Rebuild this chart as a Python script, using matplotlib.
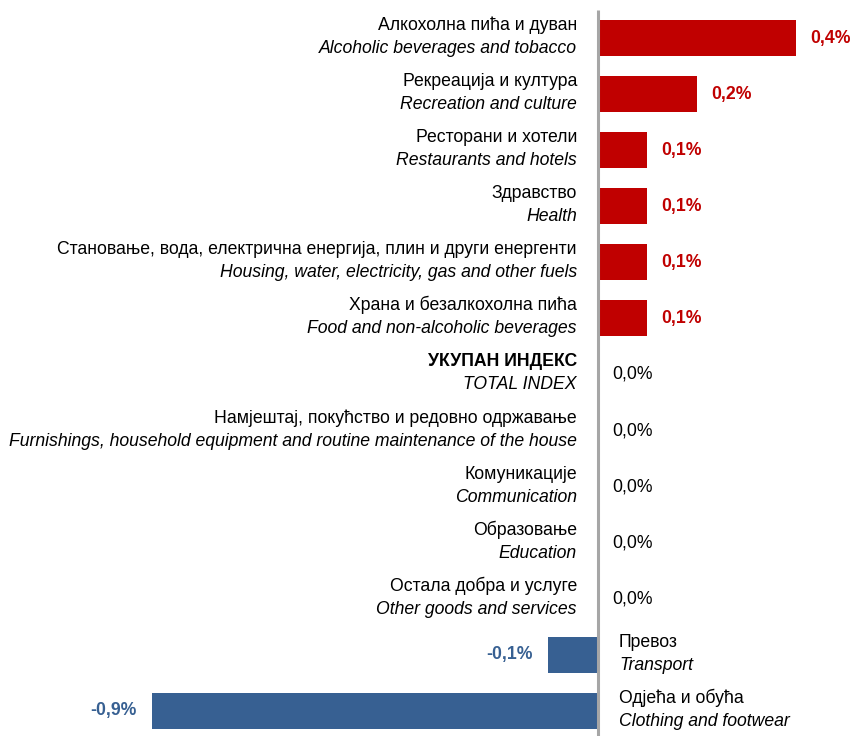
import matplotlib
matplotlib.use("Agg")
import matplotlib.pyplot as plt
from matplotlib import font_manager as fm

names_sr = ["Алкохолна пића и дуван", "Рекреација и култура", "Ресторани и хотели",
            "Здравство", "Становање, вода, електрична енергија, плин и други енергенти",
            "Храна и безалкохолна пића", "УКУПАН ИНДЕКС",
            "Намјештај, покућство и редовно одржавање", "Комуникације", "Образовање",
            "Остала добра и услуге", "Превоз", "Одјећа и обућа"]
names_en = ["Alcoholic beverages and tobacco", "Recreation and culture", "Restaurants and hotels",
            "Health", "Housing, water, electricity, gas and other fuels",
            "Food and non-alcoholic beverages", "TOTAL INDEX",
            "Furnishings, household equipment and routine maintenance of the house",
            "Communication", "Education", "Other goods and services", "Transport",
            "Clothing and footwear"]
values = [0.4, 0.2, 0.1, 0.1, 0.1, 0.1, 0.0, 0.0, 0.0, 0.0, 0.0, -0.1, -0.9]
value_labels = ["0,4%", "0,2%", "0,1%", "0,1%", "0,1%", "0,1%", "0,0%", "0,0%", "0,0%",
                "0,0%", "0,0%", "-0,1%", "-0,9%"]

avail = {f.name for f in fm.fontManager.ttflist}
fam = [f for f in ["Liberation Sans Narrow", "Liberation Sans", "DejaVu Sans"] if f in avail]
plt.rcParams['font.family'] = fam

RED = "#C00000"
BLUE = "#376092"
FS = 12.7

fig = plt.figure(figsize=(8.51, 7.36), dpi=100)
ax = fig.add_axes([0, 0, 1, 1])
ppu = 495.0
row = 56.08
ax.set_xlim(-598 / ppu, (851 - 598) / ppu)
ax.set_ylim((736 - 38) / row, -38 / row)
ax.axis("off")

ys = list(range(len(values)))
colors = [RED if v > 0 else BLUE for v in values]
ax.barh(ys, values, height=0.64, color=colors, zorder=2)
ax.plot([0, 0], [-0.5, 20], color="#A6A6A6", lw=2.2, zorder=3, solid_capstyle="butt")

dx_lab = 21 / ppu
dx_val = 14 / ppu
up = 8 / row
dn = 15 / row
for i, (s, e, v, t) in enumerate(zip(names_sr, names_en, values, value_labels)):
    bold = "bold" if i == 6 else "normal"
    if v >= 0:
        ax.text(-dx_lab, i - up, s, ha="right", va="baseline", fontsize=FS, fontweight=bold)
        ax.text(-dx_lab, i + dn, e, ha="right", va="baseline", fontsize=FS, fontstyle="italic")
        if v > 0:
            ax.text(v + dx_val, i, t, ha="left", va="center", fontsize=FS,
                    fontweight="bold", color=RED)
        else:
            ax.text(dx_val, i, t, ha="left", va="center", fontsize=FS, color="black")
    else:
        ax.text(dx_lab, i - up, s, ha="left", va="baseline", fontsize=FS)
        ax.text(dx_lab, i + dn, e, ha="left", va="baseline", fontsize=FS, fontstyle="italic")
        ax.text(v - 16 / ppu, i, t, ha="right", va="center", fontsize=FS,
                fontweight="bold", color=BLUE)

fig.savefig("out.png", dpi=100)
